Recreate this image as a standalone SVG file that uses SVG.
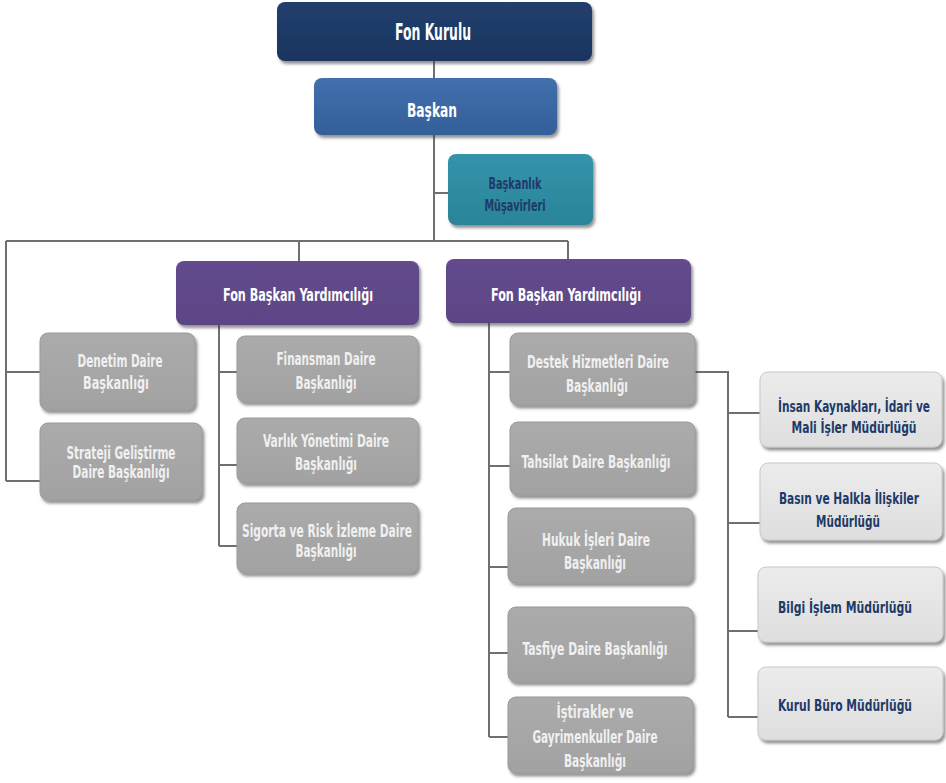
<svg xmlns="http://www.w3.org/2000/svg" width="946" height="783" viewBox="0 0 946 783">
  <defs>
    <filter id="shadow" x="-10%" y="-10%" width="125%" height="135%">
      <feDropShadow dx="2" dy="3" stdDeviation="1.6" flood-color="#3a3a3a" flood-opacity="0.55"/>
    </filter>
    <linearGradient id="gNavy" x1="0" y1="0" x2="0" y2="1">
      <stop offset="0" stop-color="#223f6d"/>
      <stop offset="1" stop-color="#1a3560"/>
    </linearGradient>
    <linearGradient id="gBlue" x1="0" y1="0" x2="0" y2="1">
      <stop offset="0" stop-color="#4170ad"/>
      <stop offset="1" stop-color="#335f99"/>
    </linearGradient>
    <linearGradient id="gTeal" x1="0" y1="0" x2="0" y2="1">
      <stop offset="0" stop-color="#3494aa"/>
      <stop offset="1" stop-color="#2a8499"/>
    </linearGradient>
    <linearGradient id="gPurple" x1="0" y1="0" x2="0" y2="1">
      <stop offset="0" stop-color="#634b8e"/>
      <stop offset="1" stop-color="#5c4585"/>
    </linearGradient>
    <linearGradient id="gGray" x1="0" y1="0" x2="0" y2="1">
      <stop offset="0" stop-color="#ababab"/>
      <stop offset="1" stop-color="#a2a2a2"/>
    </linearGradient>
    <linearGradient id="gLight" x1="0" y1="0" x2="0" y2="1">
      <stop offset="0" stop-color="#ececec"/>
      <stop offset="1" stop-color="#dedede"/>
    </linearGradient>
  </defs>
  <style>
    text { font-family: "Liberation Sans Narrow", "DejaVu Sans Condensed", "Liberation Sans", sans-serif; font-weight: bold; text-anchor: middle; }
    .box { filter: url(#shadow); }
    .navy { fill: url(#gNavy); }
    .blue { fill: url(#gBlue); }
    .teal { fill: url(#gTeal); }
    .purple { fill: url(#gPurple); }
    .gray { fill: url(#gGray); stroke: #9a9a9a; stroke-width: 1; }
    .light { fill: url(#gLight); stroke: #c8c8c8; stroke-width: 1; }
    .tw { fill: #ffffff; }
    .tg { fill: #f0f0f0; font-size: 17px; }
    .td { fill: #1e3a68; font-size: 16px; }
    .tp { fill: #ffffff; font-size: 18px; }
    .links path { fill: none; stroke: #6f6f6f; stroke-width: 2; }
  </style>

  <g class="links">
    <path d="M434,61 V78"/>
    <path d="M434,135 V241"/>
    <path d="M434,193 H448"/>
    <path d="M6,241 H568"/>
    <path d="M299,241 V261"/>
    <path d="M568,241 V259"/>
    <path d="M6,241 V481 M6,372 H40 M6,481 H40"/>
    <path d="M219,325 V546 M219,372 H237 M219,465 H237 M219,546 H237"/>
    <path d="M489,323 V737 M489,372 H510 M489,466 H510 M489,567 H508 M489,653 H508 M489,737 H508"/>
    <path d="M695,372 H728 V717 M728,413 H760 M728,523 H760 M728,631 H758 M728,717 H758"/>
  </g>

  <g id="fon-kurulu">
    <rect class="box navy" x="277" y="2" width="315" height="59" rx="8"/>
    <text class="tw" x="433" y="40" font-size="23" textLength="76" lengthAdjust="spacingAndGlyphs">Fon Kurulu</text>
  </g>

  <g id="baskan">
    <rect class="box blue" x="314" y="78" width="243" height="57" rx="8"/>
    <text class="tw" x="432" y="117" font-size="19.5" textLength="50" lengthAdjust="spacingAndGlyphs">Başkan</text>
  </g>

  <g id="musavirler">
    <rect class="box teal" x="448" y="154" width="145" height="71" rx="8"/>
    <text class="td" x="515" y="189" font-size="16.5" textLength="53" lengthAdjust="spacingAndGlyphs">Başkanlık</text>
    <text class="td" x="515" y="211" font-size="16.5" textLength="61" lengthAdjust="spacingAndGlyphs">Müşavirleri</text>
  </g>

  <g id="yardimci-1">
    <rect class="box purple" x="176" y="261" width="243" height="64" rx="8"/>
    <text class="tp" x="298" y="301" textLength="150" lengthAdjust="spacingAndGlyphs">Fon Başkan Yardımcılığı</text>
  </g>

  <g id="yardimci-2">
    <rect class="box purple" x="446" y="259" width="245" height="64" rx="8"/>
    <text class="tp" x="566" y="301" textLength="150" lengthAdjust="spacingAndGlyphs">Fon Başkan Yardımcılığı</text>
  </g>

  <g id="denetim">
    <rect class="box gray" x="40" y="333" width="155" height="77" rx="8"/>
    <text class="tg" x="120" y="367" textLength="85" lengthAdjust="spacingAndGlyphs">Denetim Daire</text>
    <text class="tg" x="116" y="389" textLength="66" lengthAdjust="spacingAndGlyphs">Başkanlığı</text>
  </g>

  <g id="strateji">
    <rect class="box gray" x="40" y="423" width="162" height="77" rx="8"/>
    <text class="tg" x="121" y="459" font-size="16" textLength="109" lengthAdjust="spacingAndGlyphs">Strateji Geliştirme</text>
    <text class="tg" x="121" y="478" font-size="16" textLength="97" lengthAdjust="spacingAndGlyphs">Daire Başkanlığı</text>
  </g>

  <g id="finansman">
    <rect class="box gray" x="237" y="336" width="181" height="66" rx="8"/>
    <text class="tg" x="326" y="365" textLength="99" lengthAdjust="spacingAndGlyphs">Finansman Daire</text>
    <text class="tg" x="326" y="389" textLength="61" lengthAdjust="spacingAndGlyphs">Başkanlığı</text>
  </g>

  <g id="varlik">
    <rect class="box gray" x="237" y="418" width="181" height="65" rx="8"/>
    <text class="tg" x="326" y="447" textLength="126" lengthAdjust="spacingAndGlyphs">Varlık Yönetimi Daire</text>
    <text class="tg" x="326" y="470" textLength="62" lengthAdjust="spacingAndGlyphs">Başkanlığı</text>
  </g>

  <g id="sigorta">
    <rect class="box gray" x="237" y="503" width="181" height="70" rx="8"/>
    <text class="tg" x="327" y="537" textLength="170" lengthAdjust="spacingAndGlyphs">Sigorta ve Risk İzleme Daire</text>
    <text class="tg" x="326" y="557" textLength="61" lengthAdjust="spacingAndGlyphs">Başkanlığı</text>
  </g>

  <g id="destek">
    <rect class="box gray" x="510" y="333" width="185" height="72" rx="8"/>
    <text class="tg" x="598" y="368" textLength="142" lengthAdjust="spacingAndGlyphs">Destek Hizmetleri Daire</text>
    <text class="tg" x="597" y="392" textLength="62" lengthAdjust="spacingAndGlyphs">Başkanlığı</text>
  </g>

  <g id="tahsilat">
    <rect class="box gray" x="510" y="422" width="185" height="73" rx="8"/>
    <text class="tg" x="596" y="468" textLength="149" lengthAdjust="spacingAndGlyphs">Tahsilat Daire Başkanlığı</text>
  </g>

  <g id="hukuk">
    <rect class="box gray" x="508" y="508" width="185" height="75" rx="8"/>
    <text class="tg" x="596" y="546" textLength="108" lengthAdjust="spacingAndGlyphs">Hukuk İşleri Daire</text>
    <text class="tg" x="595" y="569" textLength="62" lengthAdjust="spacingAndGlyphs">Başkanlığı</text>
  </g>

  <g id="tasfiye">
    <rect class="box gray" x="508" y="607" width="185" height="75" rx="8"/>
    <text class="tg" x="595" y="655" textLength="145" lengthAdjust="spacingAndGlyphs">Tasfiye Daire Başkanlığı</text>
  </g>

  <g id="istirakler">
    <rect class="box gray" x="508" y="697" width="185" height="76" rx="8"/>
    <text class="tg" x="595" y="718" textLength="77" lengthAdjust="spacingAndGlyphs">İştirakler  ve</text>
    <text class="tg" x="595" y="743" textLength="125" lengthAdjust="spacingAndGlyphs">Gayrimenkuller Daire</text>
    <text class="tg" x="595" y="767" textLength="62" lengthAdjust="spacingAndGlyphs">Başkanlığı</text>
  </g>

  <!-- light boxes: text narrowed horizontally with a scale transform -->
  <g id="insan-kaynaklari">
    <rect class="box light" x="760" y="372" width="182" height="75" rx="8"/>
    <text class="td" transform="translate(854,412) scale(0.75,1)" textLength="202.7" lengthAdjust="spacingAndGlyphs">İnsan Kaynakları, İdari ve</text>
    <text class="td" transform="translate(854,433) scale(0.75,1)" textLength="166.7" lengthAdjust="spacingAndGlyphs">Mali İşler Müdürlüğü</text>
  </g>

  <g id="basin">
    <rect class="box light" x="760" y="463" width="182" height="77" rx="8"/>
    <text class="td" transform="translate(849,504) scale(0.75,1)" textLength="186.7" lengthAdjust="spacingAndGlyphs">Basın ve Halkla İlişkiler</text>
    <text class="td" transform="translate(848,527) scale(0.75,1)" textLength="85.3" lengthAdjust="spacingAndGlyphs">Müdürlüğü</text>
  </g>

  <g id="bilgi-islem">
    <rect class="box light" x="758" y="567" width="185" height="75" rx="8"/>
    <text class="td" transform="translate(845,613) scale(0.75,1)" textLength="178.7" lengthAdjust="spacingAndGlyphs">Bilgi İşlem Müdürlüğü</text>
  </g>

  <g id="kurul-buro">
    <rect class="box light" x="758" y="667" width="185" height="73" rx="8"/>
    <text class="td" transform="translate(845,711) scale(0.75,1)" textLength="178.7" lengthAdjust="spacingAndGlyphs">Kurul Büro Müdürlüğü</text>
  </g>
</svg>
